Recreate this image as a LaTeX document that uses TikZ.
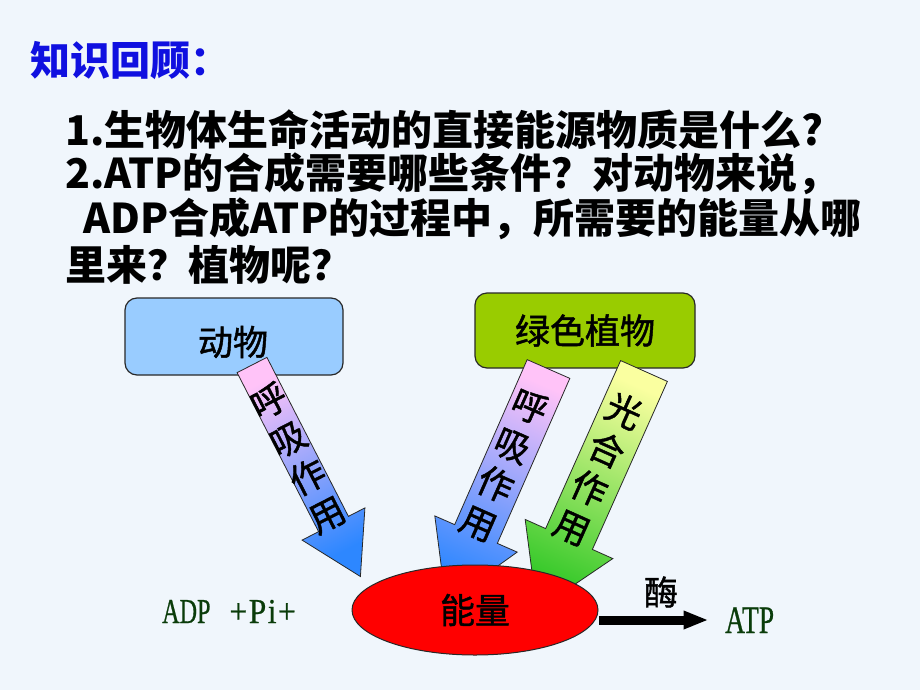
\documentclass[tikz,border=0pt]{standalone}
\usepackage{fontspec}
\setmainfont{Noto Sans CJK SC}
\newfontfamily\cjkmed{Noto Sans CJK SC}[FakeBold=1.3]
\newfontfamily\adpfont{Liberation Serif}[FakeStretch=0.69, FakeBold=0.6]
\newfontfamily\pifont{Liberation Serif}[FakeStretch=0.9, FakeBold=0.6]
\newfontfamily\atpfont{Liberation Serif}[FakeStretch=0.705, FakeBold=0.6]
\usetikzlibrary{calc,arrows.meta,shapes.geometric}
\definecolor{bgc}{RGB}{240,246,252}
\definecolor{titleblue}{RGB}{16,16,224}
\definecolor{animalfill}{RGB}{153,204,255}
\definecolor{plantfill}{RGB}{153,204,0}
\definecolor{pinktop}{RGB}{255,195,248}
\definecolor{bluebot}{RGB}{45,135,255}
\definecolor{yellowtop}{RGB}{250,255,160}
\definecolor{greenbot}{RGB}{51,200,40}
\definecolor{adpgreen}{RGB}{10,60,10}
\definecolor{edgegray}{RGB}{40,40,40}
\begin{document}
\begin{tikzpicture}[x=1pt,y=-1pt,
  qline/.style={anchor=base west, inner sep=0pt, font=\fontsize{41}{49}\selectfont\bfseries},
  catbox/.style={draw=edgegray, line width=1.2pt, rounded corners=12pt},
  cattext/.style={inner sep=0pt, font=\cjkmed\fontsize{35}{40}\selectfont},
  blockarr/.style={draw=edgegray, line width=0.8pt},
  arrtext/.style={inner sep=0pt, align=center, font=\cjkmed\fontsize{35.5}{42.5}\selectfont}]
\useasboundingbox[fill=bgc] (0,0) rectangle (920,690);

% title and questions
\node[anchor=base west, inner sep=0pt, text=titleblue, font=\fontsize{40}{48}\selectfont\bfseries] (title) at (30,76) {知识回顾：};
\node[qline] (q1) at (65,145) {1.生物体生命活动的直接能源物质是什么?};
\node[qline] (q2) at (65,188) {2.ATP的合成需要哪些条件？对动物来说，};
\node[qline] (q3) at (83,233) {ADP合成ATP的过程中，所需要的能量从哪};
\node[qline] (q4) at (65,280) {里来？植物呢？};

% category boxes
\node[catbox, fill=animalfill, minimum width=218pt, minimum height=77pt] (animal) at (234,336.5) {};
\node[cattext] (animaltext) at (233,342) {动物};
\node[catbox, fill=plantfill, minimum width=220pt, minimum height=75pt, cattext] (plant) at (585,330.5) {绿色植物};

% block arrows
\coordinate (a1s) at (252,365);
\coordinate (a1h) at (333.5,524);
\coordinate (a1t) at (360.4,576.5);
\coordinate (a2s) at (548.5,369);
\coordinate (a2h) at (476,534);
\coordinate (a2t) at (446,603);
\coordinate (a3s) at (644,371);
\coordinate (a3h) at (569,539);
\coordinate (a3t) at (537,610);

\path[blockarr, top color=pinktop, bottom color=bluebot, shading angle=27.1]
  ($(a1s)!16.75pt!90:(a1h)$) -- ($(a1h)!16.75pt!-90:(a1s)$) -- ($(a1h)!35.3pt!-90:(a1s)$)
  -- (a1t) -- ($(a1h)!35.3pt!90:(a1s)$) -- ($(a1h)!16.75pt!90:(a1s)$) -- ($(a1s)!16.75pt!-90:(a1h)$) -- cycle;
\path[blockarr, top color=pinktop, bottom color=bluebot, shading angle=-23.7]
  ($(a2s)!23.3pt!90:(a2h)$) -- ($(a2h)!23.3pt!-90:(a2s)$) -- ($(a2h)!45pt!-90:(a2s)$)
  -- (a2t) -- ($(a2h)!45pt!90:(a2s)$) -- ($(a2h)!23.3pt!90:(a2s)$) -- ($(a2s)!23.3pt!-90:(a2h)$) -- cycle;
\path[blockarr, top color=yellowtop, bottom color=greenbot, shading angle=-24.1]
  ($(a3s)!25.6pt!90:(a3h)$) -- ($(a3h)!25.6pt!-90:(a3s)$) -- ($(a3h)!48pt!-90:(a3s)$)
  -- (a3t) -- ($(a3h)!48pt!90:(a3s)$) -- ($(a3h)!25.6pt!90:(a3s)$) -- ($(a3s)!25.6pt!-90:(a3h)$) -- cycle;

\node[arrtext, rotate=27.1] (t1) at (298,458) {呼\\吸\\作\\用};
\node[arrtext, rotate=-23.7] (t2) at (504,465) {呼\\吸\\作\\用};
\node[arrtext, rotate=-24.1] (t3) at (598,469) {光\\合\\作\\用};

% energy ellipse
\node[ellipse, draw=edgegray, line width=1pt, fill=red, minimum width=246pt, minimum height=90pt, inner sep=0pt, font=\cjkmed\fontsize{35}{40}\selectfont] (energy) at (475,610) {能量};

% equation
\node[anchor=base west, inner sep=0pt, text=adpgreen, font=\fontsize{35}{40}\selectfont] (adp) at (162,623) {{\adpfont ADP}\hspace{19pt}{\pifont +\hspace{1.5pt}P\hspace{1.5pt}i\hspace{1.5pt}+}};
\node[anchor=base west, inner sep=0pt, text=adpgreen, font=\atpfont\fontsize{39}{44}\selectfont] (atp) at (725,633) {ATP};
\coordinate (e1) at (599,620);
\coordinate (e2) at (708.5,620);
\draw[line width=9pt, -{Triangle[length=25pt,width=17pt]}] (e1) -- (e2);
\node[inner sep=0pt, font=\cjkmed\fontsize{34}{40}\selectfont] (enzyme) at (661,592) {酶};
\end{tikzpicture}
\end{document}
